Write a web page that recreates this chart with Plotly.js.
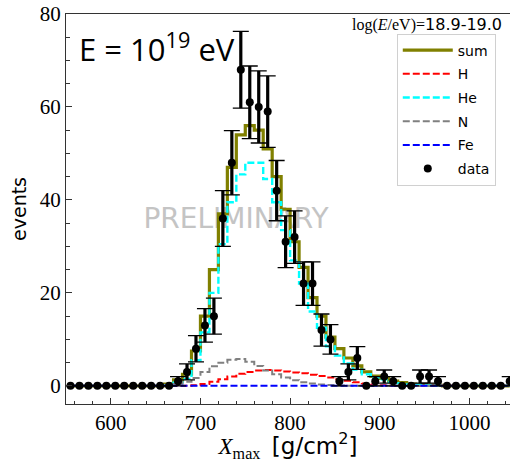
<!DOCTYPE html>
<html>
<head>
<meta charset="utf-8">
<script src="https://cdn.plot.ly/plotly-3.0.1.min.js"></script>
<style>
  html, body { margin: 0; padding: 0; background: #fff; }
  #chart { width: 510px; height: 462px; }
</style>
</head>
<body>
<div id="chart"></div>
<script>
// Xmax bin centres, 10 g/cm^2 wide bins from 550 to 1050
const binCenters = [555, 565, 575, 585, 595, 605, 615, 625, 635, 645,
                    655, 665, 675, 685, 695, 705, 715, 725, 735, 745,
                    755, 765, 775, 785, 795, 805, 815, 825, 835, 845,
                    855, 865, 875, 885, 895, 905, 915, 925, 935, 945,
                    955, 965, 975, 985, 995, 1005, 1015, 1025, 1035, 1045];

// observed events per bin
const dataCounts = [0, 0, 0, 0, 0, 0, 0, 0, 0, 0,
                    0, 0, 1, 3, 8, 13, 15, 36, 48, 68,
                    61, 60, 59, 42, 31, 32, 22, 22, 12, 10,
                    1, 3, 6, 0, 1, 2, 1, 0, 0, 2,
                    2, 1, 0, 0, 0, 0, 0, 0, 0, 1];

// statistical uncertainty per bin (none where the bin is empty)
const dataErrors = [0, 0, 0, 0, 0, 0, 0, 0, 0, 0,
                    0, 0, 1.0, 1.73, 2.83, 3.61, 3.87, 6.0, 6.93, 8.25,
                    7.81, 7.75, 7.68, 6.48, 5.57, 5.66, 4.69, 4.69, 3.46, 3.16,
                    1.0, 1.73, 2.45, 0, 1.0, 1.41, 1.0, 0, 0, 1.41,
                    1.41, 1.0, 0, 0, 0, 0, 0, 0, 0, 1.0];

// fitted composition templates
const sumFit = [0, 0, 0, 0, 0, 0, 0, 0, 0, 0,
                0, 0.4, 1.3, 2.5, 7.5, 15, 25, 37, 47, 54,
                56, 55, 51, 45, 38, 31, 25.5, 19, 15, 10.5,
                8, 6, 4.3, 3, 2.1, 1.6, 1.0, 0.7, 0.4, 0.3,
                0.15, 0.1, 0, 0, 0, 0, 0, 0, 0, 0];

const hFit = [0, 0, 0, 0, 0, 0, 0, 0, 0, 0,
              0, 0, 0, 0.05, 0.15, 0.4, 0.9, 1.4, 2.0, 2.6,
              3.0, 3.3, 3.4, 3.3, 3.1, 2.9, 2.7, 2.4, 2.1, 1.8,
              1.4, 1.1, 0.8, 0.5, 0.3, 0.15, 0.05, 0, 0, 0,
              0, 0, 0, 0, 0, 0, 0, 0, 0, 0];

const heFit = [0, 0, 0, 0, 0, 0, 0, 0, 0, 0,
               0, 0.1, 0.7, 1.5, 5.5, 11.5, 20, 30.5, 39.5, 45.5,
               48, 48, 44.5, 39.5, 33.5, 27, 22, 16, 12.5, 8.5,
               6.5, 4.8, 3.5, 2.5, 1.8, 1.4, 0.9, 0.6, 0.35, 0.25,
               0.1, 0.05, 0, 0, 0, 0, 0, 0, 0, 0];

const nFit = [0, 0, 0, 0, 0, 0, 0, 0, 0, 0,
              0, 0.1, 0.4, 0.9, 1.7, 3.0, 4.2, 5.0, 5.6, 5.8,
              5.2, 4.3, 3.3, 2.5, 1.8, 1.2, 0.8, 0.5, 0.3, 0.2,
              0.1, 0, 0, 0, 0, 0, 0, 0, 0, 0,
              0, 0, 0, 0, 0, 0, 0, 0, 0, 0];

const feFit = [0, 0, 0, 0, 0, 0, 0, 0, 0, 0,
               0, 0, 0, 0, 0, 0, 0, 0, 0, 0,
               0, 0, 0, 0, 0, 0, 0, 0, 0, 0,
               0, 0, 0, 0, 0, 0, 0, 0, 0, 0,
               0, 0, 0, 0, 0, 0, 0, 0, 0, 0];

const seriesNames = ['sum', 'H', 'He', 'N', 'Fe', 'data'];

// empty bins carry no error bar
const errArray = dataErrors.map(e => (e > 0 ? e : null));

function stepTrace(name, values, color, width, dash) {
  return {
    x: binCenters, y: values, name: name, legendgroup: name,
    type: 'scatter', mode: 'lines',
    line: { shape: 'hvh', color: color, width: width, dash: dash },
    hoverinfo: 'skip'
  };
}

const traces = [
  stepTrace(seriesNames[0], sumFit, '#808000', 3.2, 'solid'),
  stepTrace(seriesNames[1], hFit, '#ff0000', 2, '7px,3px'),
  stepTrace(seriesNames[2], heFit, '#00ffff', 2.4, '7px,3px'),
  stepTrace(seriesNames[3], nFit, '#808080', 2, '7px,3px'),
  stepTrace(seriesNames[4], feFit, '#0000ff', 2, '7px,3px'),
  // thick error-bar stems
  {
    x: binCenters, y: dataCounts, type: 'scatter', mode: 'markers',
    marker: { size: 1, color: 'rgba(0,0,0,0)' },
    error_y: { type: 'data', array: errArray, visible: true, color: '#000', thickness: 3.2, width: 0 },
    showlegend: false, hoverinfo: 'skip', cliponaxis: false
  },
  // points with capped error bars
  {
    x: binCenters, y: dataCounts, name: seriesNames[5], legendgroup: seriesNames[5],
    type: 'scatter', mode: 'markers',
    marker: { size: 8, color: '#000' },
    error_y: { type: 'data', array: errArray, visible: true, color: '#000', thickness: 1.3, width: 8 },
    cliponaxis: false
  }
];

const layout = {
  width: 510, height: 462,
  margin: { l: 66, r: 0, t: 14, b: 58 },
  paper_bgcolor: '#fff', plot_bgcolor: '#fff',
  showlegend: true,
  legend: {
    x: 0.745, y: 0.95, xanchor: 'left', yanchor: 'top',
    bgcolor: '#fff', bordercolor: '#d0d0d0', borderwidth: 1,
    font: { family: 'DejaVu Sans', size: 14, color: '#000' },
    itemwidth: 50, tracegroupgap: 2.5
  },
  xaxis: {
    range: [550, 1045.3], showgrid: false, zeroline: false,
    showline: true, linecolor: '#333', linewidth: 1, mirror: true,
    ticks: 'inside', ticklen: 6, tickcolor: '#333', dtick: 100, tick0: 0,
    minor: { ticks: 'inside', dtick: 20, ticklen: 3.5, tickcolor: '#333' },
    tickfont: { family: 'Liberation Serif', size: 21, color: '#000' },
    title: {
      text: '<i>X</i><sub>max</sub>  <span style="font-family:DejaVu Sans">[g/cm<sup>2</sup>]</span>',
      font: { family: 'Liberation Serif', size: 23, color: '#000' },
      standoff: 10
    }
  },
  yaxis: {
    range: [-3.9, 80], showgrid: false, zeroline: false,
    showline: true, linecolor: '#333', linewidth: 1, mirror: false,
    ticks: 'inside', ticklen: 6, tickcolor: '#333', dtick: 20, tick0: 0,
    minor: { ticks: 'inside', dtick: 5, ticklen: 3.5, tickcolor: '#333' },
    tickfont: { family: 'Liberation Serif', size: 21, color: '#000' },
    title: {
      text: 'events',
      font: { family: 'DejaVu Sans', size: 19, color: '#000' },
      standoff: 8
    }
  },
  shapes: [{
    type: 'rect', xref: 'paper', yref: 'paper',
    x0: 0.1, x1: 0.666, y0: 0.42, y1: 0.54,
    line: { width: 0 }, fillcolor: 'rgba(0,0,0,0)', layer: 'below',
    label: { text: 'PRELIMINARY', textposition: 'middle center',
             font: { family: 'DejaVu Sans', size: 28, color: '#c4c4c4' } }
  }],
  annotations: [
    {
      xref: 'paper', yref: 'paper', x: 0.024, y: 0.915, xanchor: 'left', yanchor: 'middle',
      text: 'E = 10<sup>19</sup> eV', showarrow: false,
      font: { family: 'Open Sans', size: 31, color: '#000' }
    },
    {
      xref: 'paper', yref: 'paper', x: 0.986, y: 0.972, xanchor: 'right', yanchor: 'middle',
      text: 'log(<i>E</i>/eV)=<span style="font-family:DejaVu Sans">18.9-19.0</span>', showarrow: false,
      font: { family: 'Liberation Serif', size: 16, color: '#000' }
    }
  ]
};

Plotly.newPlot('chart', traces, layout, { displayModeBar: false, staticPlot: true });
</script>
</body>
</html>
